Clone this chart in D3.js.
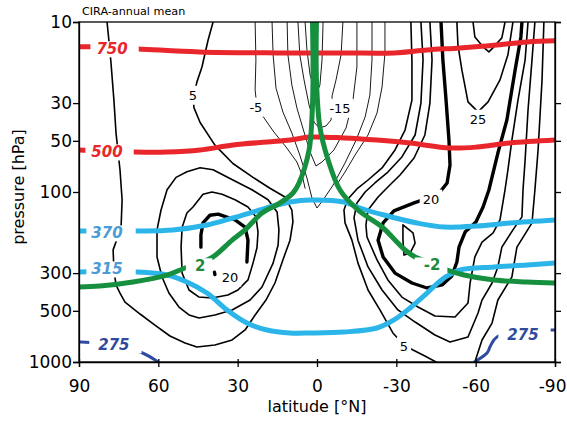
<!DOCTYPE html>
<html><head><meta charset="utf-8">
<script src="https://cdn.jsdelivr.net/npm/d3@7"></script>
<style>body{margin:0;background:#fff}svg{display:block}</style>
</head><body>
<svg id="c" width="567" height="423"></svg>
<script>
// ---------- axes ----------
const latTicks = [90, 60, 30, 0, -30, -60, -90];
const pTicks = [10, 30, 50, 100, 300, 500, 1000];

// ---------- zonal wind contours [lat, hPa] ----------
const u5N = [[79.4,10],[78.7,12.8],[77.9,17.4],[76.8,28.8],[76.0,45],[74.5,74],[73.7,111],[74.1,163],[77.1,219],[76.8,288],[76.0,352],[74.5,393],[72.6,444],[66.9,522],[61.3,606],[55.6,703],[49.9,773],[45.4,816],[38.6,794],[32.1,742],[27.2,648],[23.4,529],[19.3,432],[15.9,343],[12.9,251],[10.2,192],[9.1,150],[9.5,128],[12.1,107],[17.8,95],[24.2,82],[31.8,68],[38.6,53],[44.2,39],[46.5,32],[46.9,28],[45.4,22.5],[43.5,18.4],[41.2,12.8],[39.3,10]];
const u10N = [[56.7,97],[53.3,82],[49.2,76],[44.2,72],[39.3,74],[31.8,85],[24.6,97],[18.5,111],[15.1,131],[14.4,167],[14.7,205],[16.6,262],[20.8,362],[25.3,432],[32.1,494],[38.6,529],[44.6,551],[48.4,529],[52.2,475],[56.0,393],[58.6,316],[60.5,241],[60.5,167],[59.0,128]];
const u15N = [[46.9,122.5],[43.1,103],[39.7,100],[35.9,103],[31.0,111],[26.1,122.5],[23.1,140],[22.3,172],[22.7,213],[24.2,262],[26.1,329],[29.9,377],[33.7,404],[39.7,420],[44.6,415],[48.4,377],[51.0,300],[51.4,211],[51.0,161],[49.2,133]];
const u20N = [[26.5,258],[26.1,192],[27.2,161],[31.0,146],[37.4,135],[40.5,137],[43.1,152],[43.9,179],[43.9,211]];
const u20Ndot = [[38.8,296],[38.6,306]];
const uEastA = [[4.5,10],[3.8,14.6],[2.6,20.5],[1.1,24.5],[0,25.8],[-1.1,23.5],[-1.9,16.7],[-2.3,10]];
const uEastB = [[7.2,10],[6.5,15.6],[4.9,21.9],[3.0,30.8],[1.1,38.8],[-0.8,42],[-3.4,40.9],[-5.3,37.7],[-5.7,32],[-5.7,27.2],[-7.2,21.9],[-9.1,15.6],[-9.8,10]];
const uEastC = [[11.3,10],[11.0,15.6],[9.5,23.5],[7.6,32],[4.9,44.4],[2.6,58.2],[0.4,70.3],[-1.9,66.6],[-6.4,56.6],[-11.0,42],[-13.6,28.8],[-15.1,18.4],[-15.1,10]];
const uEastD = [[17.0,10],[16.6,15.6],[15.5,24.5],[12.9,33.8],[9.5,45],[6.5,60.6],[3.8,82.7],[1.9,108.5],[0,124.2],[-2.3,111.4],[-6.1,91],[-10.6,67.5],[-14.8,49.5],[-18.2,36.2],[-20.0,26.9],[-20.8,16.7],[-20.8,10]];
const uEastEN = [[23.4,10],[23.1,16.7],[23.4,25.1],[22.7,31.6],[20.0,36.7],[16.3,44.4],[11.7,54.4],[7.6,66.6],[5.7,79],[4.5,95]];
const uEastES = [[-25.7,10],[-25.7,15.2],[-24.6,24.1],[-22.7,34.3],[-19.3,46.2],[-14.4,60.6],[-10.6,76.3],[-7.9,88.5]];
const u5S = [[-35.5,10],[-35.9,16.7],[-35.9,28.8],[-33.3,43.2],[-29.5,56.6],[-24.6,72.2],[-19.3,85],[-15.1,96],[-11.7,110],[-10.2,127.6],[-10.6,152],[-13.2,192],[-15.5,262],[-19.3,377],[-23.8,494],[-28.7,675],[-32.9,794],[-36.3,850],[-40.8,922],[-45.0,1000]];
const u10S = [[-39.3,10],[-40.1,16.7],[-39.3,30],[-37.1,46.2],[-32.1,62.2],[-26.8,76.3],[-21.9,88.5],[-18.2,100],[-15.1,116],[-14.0,142],[-15.5,192],[-19.3,276],[-24.6,377],[-30.6,494],[-37.1,582],[-44.6,694],[-50.3,762],[-57.1,713],[-60.9,515],[-62.4,432],[-66.2,343],[-68.4,276],[-69.9,211],[-74.1,167],[-77.5,140],[-77.9,97.3],[-78.7,64.8],[-79.8,32.9],[-81.3,16.7],[-82.4,10]];
const u15S = [[-42.7,10],[-43.5,16.7],[-42.7,30],[-40.8,46.2],[-36.7,63.1],[-31.4,79.4],[-26.8,93.5],[-23.1,107],[-19.3,127.6],[-18.5,156.4],[-18.9,184],[-22.7,251],[-26.8,329],[-32.1,415],[-38.2,475],[-44.6,536],[-52.2,544],[-57.1,450],[-57.9,343],[-59.7,241],[-62.4,197],[-66.6,174],[-69.2,146],[-71.1,97.3],[-72.2,74.2],[-73.7,49.5],[-76.0,28.8],[-78.7,16.7],[-79.8,10]];
const u20S = [[-46.9,10],[-47.6,16.7],[-48.8,28.8],[-49.9,49.5],[-50.3,69.4],[-49.2,88.5],[-46.5,100],[-42.0,108.5],[-36.7,116],[-29.1,129],[-25.0,152],[-23.1,192],[-25.0,241],[-29.5,300],[-35.9,343],[-41.6,367],[-47.3,352],[-51.0,312],[-52.9,258],[-53.7,211],[-56.0,172],[-60.1,150],[-62.8,122.5],[-65.0,97.3],[-68.4,59],[-71.8,37.7],[-74.9,19.2],[-77.1,12.25],[-77.5,10]];
const u25S = [[-52.9,10],[-53.3,13.7],[-54.8,19.2],[-57.1,29.5],[-60.9,33.8],[-64.7,29.5],[-69.2,21.9],[-72.2,15.6],[-74.1,10]];
const u30S = [[-59.0,10],[-59.7,12.25],[-62.8,14.0],[-65.0,15.0],[-66.9,14.0],[-69.9,12.4],[-71.1,10]];
const u25Sjet = [[-32.5,156],[-36.3,174],[-37.1,200],[-35.2,229],[-32.9,235],[-32.5,192]];
const u5Spole = [[-85.8,10],[-85.1,21.9],[-83.6,56.6],[-82.4,97.3],[-81.3,152],[-75.6,211],[-73.7,316],[-68.4,432],[-66.2,590],[-62.4,742],[-59.7,1000]];

// contour labels [text, lat, hPa]
const windLabels = [["5",46.9,26.9],["-5",23.1,31.6],["-15",-8.7,32.1],["25",-60.9,37.2],["20",-43.1,109.8],["20",32.9,316],["5",-32.9,805]];

// ---------- potential temperature (K) ----------
const th750 = [[90,14.0],[85.8,14.0],[67.7,14.4],[44.6,15.0],[15.1,15.2],[-10.2,15.2],[-29.1,15.2],[-41.6,14.6],[-54.1,14.2],[-66.9,13.7],[-79.4,13.1],[-90,12.9]];
const th500 = [[90,56.6],[68.8,58.2],[56.7,58.2],[44.2,56.6],[31.8,52.9],[18.9,50.8],[10.2,49.5],[2.6,47.5],[-10.2,48.1],[-22.7,49.5],[-35.2,51.5],[-50.3,55.1],[-60.5,54.4],[-73.0,51.5],[-90,49.5]];
const th370 = [[90,169.6],[68.8,169.6],[54.5,167.3],[41.6,156.4],[31.8,142.2],[21.6,127.6],[15.1,119.3],[10.2,114.5],[2.6,111.4],[-10.2,114.5],[-16.3,124.2],[-25.3,136.6],[-37.8,152.2],[-48.0,160.6],[-60.5,158.5],[-73.0,152.2],[-90,146.1]];
const th315 = [[90,295.5],[68.8,295.5],[56.7,307.8],[49.2,338.4],[41.6,392.8],[34.0,494.3],[26.5,589.6],[18.9,648.2],[10.2,675.1],[2.6,675.1],[-10.2,666],[-22.7,631],[-29.1,566],[-35.2,481],[-41.6,392.8],[-48.0,320.6],[-54.1,287.6],[-66.9,276.2],[-79.4,268.8],[-90,261.6]];
const th275N = [[90,762],[85.8,767],[66.9,873],[60.1,1000]];
const th275S = [[-59.4,1000],[-64.3,885],[-65.4,816],[-66.9,742],[-69.2,694],[-88.1,648],[-90,648]];

// ---------- potential vorticity (PVU) ----------
const pv2N = [[1.7,10],[1.5,21.9],[1.9,36.2],[3.0,56.6],[6.8,88.5],[9.1,101.4],[14.0,116],[20.8,133],[27.2,167],[32.1,192],[39.3,241],[44.2,262],[49.9,280],[56.7,308],[69.6,338],[82.1,357],[90,362]];
const pv2S = [[0.2,10],[0.2,21.9],[-1.1,41.5],[-4.2,64.8],[-8.7,97.3],[-15.5,127.6],[-24.6,160.6],[-29.5,191.6],[-33.3,219.4],[-37.1,241.2],[-43.5,262],[-49.2,287.6],[-55.6,307.8],[-66.9,329.4],[-79.4,338.4],[-90,343]];

// line labels [text, lat, hPa]
const thetaLabels = [["750",77.5,14.4],["500",79.4,58.2],["370",79.4,174.3],["315",79.4,284]];
const th275Labels = [["275",76.8,794],["275",-77.9,694]];
const pvLabels = [["2",44.2,272],["-2",-43.5,269]];

// ---------- drawing ----------
const L = 79, R = 555, T = 22, B = 362;
const svg = d3.select('#c');
const x = d3.scaleLinear().domain([90, -90]).range([L, R]);
const y = d3.scaleLog().domain([10, 1000]).range([T, B]);

svg.append('defs').append('clipPath').attr('id', 'plot')
  .append('rect').attr('x', L).attr('y', T).attr('width', R - L).attr('height', B - T);

const gPlot = svg.append('g').attr('clip-path', 'url(#plot)');
const lineOpen = d3.line().x(d => x(d[0])).y(d => y(d[1])).curve(d3.curveLinear);
const lineClosed = d3.line().x(d => x(d[0])).y(d => y(d[1])).curve(d3.curveLinearClosed);
const lineSmooth = d3.line().x(d => x(d[0])).y(d => y(d[1])).curve(d3.curveCatmullRom.alpha(0.5));

const widths = {thin: 0.9, mid: 1.6, thick: 3.4};
const contours = [
  [u5N,'mid',false],[u10N,'mid',true],[u15N,'mid',true],[u20N,'thick',false],[u20Ndot,'thick',false],
  [uEastA,'thin',false],[uEastB,'thin',false],[uEastC,'thin',false],[uEastD,'thin',false],[uEastEN,'thin',false],[uEastES,'thin',false],
  [u5S,'mid',false],[u10S,'mid',false],[u15S,'mid',false],[u20S,'thick',false],[u25S,'mid',false],[u30S,'mid',false],
  [u25Sjet,'mid',true],[u5Spole,'mid',false]
];
contours.forEach(([d, w, closed]) => {
  gPlot.append('path').attr('d', closed ? lineClosed(d) : lineOpen(d))
    .attr('fill', 'none').attr('stroke', '#000').attr('stroke-width', widths[w])
    .attr('stroke-linejoin', 'round').attr('stroke-linecap', 'round');
});

const fontMain = "'DejaVu Sans', sans-serif";
windLabels.forEach(([t, la, p]) => {
  const g = gPlot.append('g');
  const tx = g.append('text').attr('x', x(la)).attr('y', y(p)).attr('dy', '0.36em')
    .attr('text-anchor', 'middle').attr('font-family', fontMain).attr('font-size', 13).attr('fill', '#000').text(t);
  const bb = tx.node().getBBox();
  g.insert('rect', 'text').attr('x', bb.x - 3).attr('y', bb.y - 2).attr('width', bb.width + 6).attr('height', bb.height + 4).attr('fill', '#fff');
});

const cRed = '#e8262b', cBlue = '#2bb5e8', cBlueTxt = '#4b9bd7', cNavy = '#2f4b9f', cGreen = '#16903f';
const colored = [
  [th750, cRed, 5], [th500, cRed, 5], [th370, cBlue, 5], [th315, cBlue, 5],
  [th275N, cNavy, 3], [th275S, cNavy, 3], [pv2N, cGreen, 5], [pv2S, cGreen, 5]
];
colored.forEach(([d, c, w]) => {
  gPlot.append('path').attr('d', lineSmooth(d)).attr('fill', 'none')
    .attr('stroke', c).attr('stroke-width', w).attr('stroke-linejoin', 'round');
});

function boxLabel(list, color, padL, padR, size, italic) {
  list.forEach(([t, la, p]) => {
    const g = svg.append('g');
    const tx = g.append('text').attr('x', x(la)).attr('y', y(p)).attr('dy', '0.36em')
      .attr('text-anchor', 'middle').attr('font-family', fontMain).attr('font-size', size)
      .attr('font-weight', 'bold').attr('font-style', italic ? 'italic' : 'normal').attr('fill', color).text(t);
    const bb = tx.node().getBBox();
    g.insert('rect', 'text').attr('x', bb.x - padL).attr('y', bb.y + 1).attr('width', bb.width + padL + padR)
      .attr('height', bb.height - 2).attr('fill', '#fff');
  });
}
boxLabel(thetaLabels.slice(0, 2), cRed, 6, 11, 15, true);
boxLabel(thetaLabels.slice(2), cBlueTxt, 5, 13, 15, true);
boxLabel(th275Labels, cNavy, 9, 12, 15, true);
boxLabel(pvLabels, '#1f8a3d', 9, 7, 15, false);

// frame
svg.append('rect').attr('x', L).attr('y', T).attr('width', R - L).attr('height', B - T)
  .attr('fill', 'none').attr('stroke', '#000').attr('stroke-width', 1.3);

// axes
const fmt = d => String(d);
const yAxis = svg.append('g').attr('transform', `translate(${L},0)`)
  .call(d3.axisLeft(y).tickValues(pTicks).tickFormat(fmt).tickSize(6).tickPadding(1));
yAxis.selectAll('text').attr('font-family', fontMain).attr('font-size', 17).attr('fill', '#000');
const yAxisR = svg.append('g').attr('transform', `translate(${R},0)`)
  .call(d3.axisRight(y).tickValues(pTicks).tickFormat('').tickSize(6));
const xAxis = svg.append('g').attr('transform', `translate(0,${B})`)
  .call(d3.axisBottom(x).tickValues(latTicks).tickFormat(fmt).tickSize(5).tickPadding(13));
xAxis.selectAll('.tick line').attr('y1', -3);
xAxis.selectAll('text').attr('font-family', fontMain).attr('font-size', 17).attr('fill', '#000');
xAxis.selectAll('.tick').filter(d => d === -90).select('text').attr('text-anchor', 'end').attr('x', 11);
[yAxis, yAxisR, xAxis].forEach(a => {
  a.select('.domain').attr('stroke-width', 1.3);
  a.selectAll('.tick line').attr('stroke-width', 1.3);
});

// titles
svg.append('text').attr('x', 82).attr('y', 14.5).attr('font-family', fontMain).attr('font-size', 11.2)
  .attr('fill', '#000').text('CIRA-annual mean');
svg.append('text').attr('x', (L + R) / 2).attr('y', 411.5).attr('text-anchor', 'middle')
  .attr('font-family', fontMain).attr('font-size', 16).attr('fill', '#000').text('latitude [°N]');
svg.append('text').attr('transform', 'translate(24,187) rotate(-90)').attr('text-anchor', 'middle')
  .attr('font-family', fontMain).attr('font-size', 16).attr('fill', '#000').text('pressure [hPa]');
</script>
</body></html>
